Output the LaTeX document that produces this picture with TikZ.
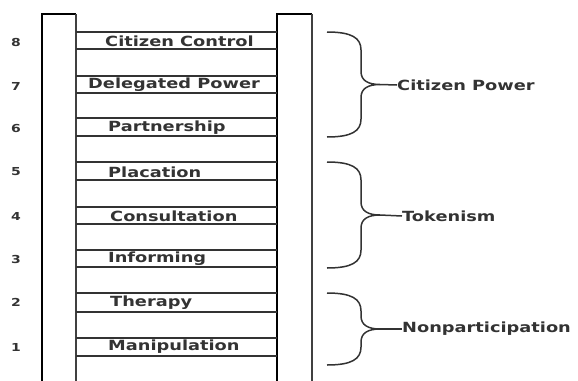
\documentclass[tikz,border=0pt]{standalone}
\usepackage{fontspec}
\newfontfamily\lfont{DejaVu Sans}[FakeStretch=1.27]
\begin{document}
\begin{tikzpicture}[x=1pt,y=-1pt,
  rail/.style={line width=2pt,draw=black},
  railthin/.style={line width=1.3pt,draw=black!75},
  rungline/.style={line width=1.5pt,draw=black!80},
  lbl/.style={anchor=west,inner sep=0pt,font=\lfont\bfseries\fontsize{14}{15}\selectfont,text=black!80},
  num/.style={inner sep=0pt,font=\lfont\bfseries\fontsize{11}{12}\selectfont,text=black!80},
  grp/.style={anchor=west,inner sep=0pt,font=\lfont\bfseries\fontsize{14}{15}\selectfont,text=black!80},
  brace/.style={line width=1.5pt,draw=black!80}]
\useasboundingbox (0,0) rectangle (578,380);
% rails
\draw[rail] (42,382) -- (42,14) -- (76,14);
\draw[railthin] (76,14) -- (76,382);
\draw[rail] (277,382) -- (277,14) -- (312,14);
\draw[railthin] (312,14) -- (312,382);
% rungs
\foreach \t/\b in {32/49,76/93,118/136,162/180,207/224,250/267,293/312,338/356}{
  \draw[rungline] (76,\t) -- (277,\t);
  \draw[rungline] (76,\b) -- (277,\b);
}
% rung labels
\node[lbl] (l8) at (105,41) {Citizen Control};
\node[lbl] (l7) at (88,85) {Delegated Power};
\node[lbl] (l6) at (108,128) {Partnership};
\node[lbl] (l5) at (108,172) {Placation};
\node[lbl] (l4) at (110,216) {Consultation};
\node[lbl] (l3) at (108,259) {Informing};
\node[lbl] (l2) at (110,303) {Therapy};
\node[lbl] (l1) at (108,347) {Manipulation};
% numbers
\node[num] (n8) at (16,42) {8};
\node[num] (n7) at (16,86) {7};
\node[num] (n6) at (16,128) {6};
\node[num] (n5) at (16,172) {5};
\node[num] (n4) at (16,216) {4};
\node[num] (n3) at (16,259) {3};
\node[num] (n2) at (16,302) {2};
\node[num] (n1) at (16,347) {1};
% braces
\foreach \top/\bot/\nm in {32/137/a,162/268/b,293/365/c}{
  \pgfmathsetmacro{\mid}{(\top+\bot)/2}
  \pgfmathsetmacro{\ua}{\top+18}
  \pgfmathsetmacro{\ub}{\mid-13}
  \pgfmathsetmacro{\la}{\mid+13}
  \pgfmathsetmacro{\lb}{\bot-18}
  \draw[brace] (327,\top) .. controls (352,\top) and (361,\top+6) .. (361,\ua)
     -- (361,\ub) .. controls (361,\mid-4) and (368,\mid) .. (380,\mid)
     .. controls (368,\mid) and (361,\mid+4) .. (361,\la)
     -- (361,\lb) .. controls (361,\bot-6) and (352,\bot) .. (327,\bot);
  \coordinate (tip\nm) at (380,\mid);
}
\node[grp] (gA) at (397,85) {Citizen Power};
\node[grp] (gB) at (402,216) {Tokenism};
\node[grp] (gC) at (402,329) {Nonparticipation};
\draw[brace] (tipa) -- (gA.west);
\draw[brace] (tipb) -- (gB.west);
\draw[brace] (tipc) -- (gC.west);
\end{tikzpicture}
\end{document}
